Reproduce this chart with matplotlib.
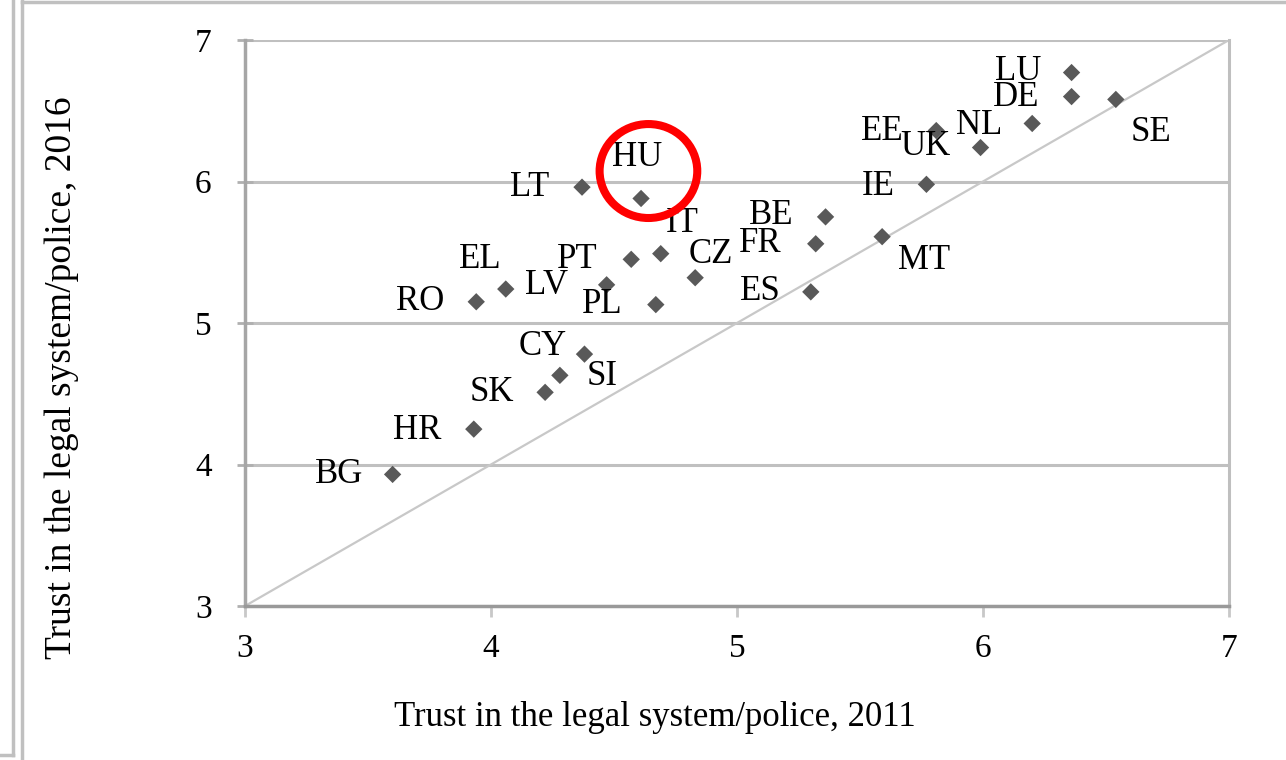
import matplotlib.pyplot as plt
from matplotlib.patches import Ellipse
from matplotlib.lines import Line2D

plt.rcParams['font.family'] = ['Liberation Serif', 'DejaVu Serif']

countries = ['LU', 'DE', 'SE', 'NL', 'EE', 'UK', 'IE', 'LT', 'HU', 'IT', 'PT',
             'BE', 'FR', 'CZ', 'ES', 'MT', 'LV', 'PL', 'EL', 'RO', 'CY', 'SI',
             'SK', 'HR', 'BG']
trust_2011 = [6.36, 6.36, 6.54, 6.20, 5.81, 5.99, 5.77, 4.37, 4.61, 4.69, 4.57,
              5.36, 5.32, 4.83, 5.30, 5.59, 4.47, 4.67, 4.06, 3.94, 4.38, 4.28,
              4.22, 3.93, 3.60]
trust_2016 = [6.77, 6.60, 6.58, 6.41, 6.36, 6.24, 5.98, 5.96, 5.88, 5.49, 5.45,
              5.75, 5.56, 5.32, 5.22, 5.61, 5.27, 5.13, 5.24, 5.15, 4.78, 4.63,
              4.51, 4.25, 3.93]
ticks = [3, 4, 5, 6, 7]

# label offsets in pixels (dx, dy), Excel-style placement
offsets = {
    'LU': (-53, 1), 'DE': (-55, -1), 'SE': (35, -33), 'NL': (-53, -2),
    'EE': (-54, -1), 'UK': (-55, 1), 'IE': (-48, -2), 'LT': (-52, 0),
    'HU': (-4, 41), 'IT': (21, 30), 'PT': (-54, 0), 'BE': (-54, 1),
    'FR': (-55, 0), 'CZ': (16, 23), 'ES': (-50, 0), 'MT': (42, -24),
    'LV': (-60, -1), 'PL': (-54, 0), 'EL': (-26, 30), 'RO': (-56, 0),
    'CY': (-42, 8), 'SI': (42, -1), 'SK': (-53, 0), 'HR': (-57, -1),
    'BG': (-53, 0),
}

fig = plt.figure(figsize=(12.86, 7.6), dpi=100)
ax = fig.add_axes([245/1286, 154/760, (1229-245)/1286, (606-40)/760])

ax.set_xlim(3, 7)
ax.set_ylim(3, 7)
ax.set_xticks(ticks)
ax.set_yticks(ticks)
ax.grid(axis='y', color='#c0c0c0', linewidth=2.2)
ax.set_axisbelow(True)

ax.plot([3, 7], [3, 7], color='#c8c8c8', linewidth=1.6, zorder=1)
ax.scatter(trust_2011, trust_2016, marker='D', s=78, color='#595959',
           edgecolors='none', zorder=3)

for c, x, y in zip(countries, trust_2011, trust_2016):
    dx, dy = offsets[c]
    ax.annotate(c, (x, y), xytext=(dx * 0.72, dy * 0.72), textcoords='offset points',
                ha='center', va='center', fontsize=25, color='black')

ax.add_patch(Ellipse((4.64, 6.074), 0.397, 0.664, fill=False,
                     edgecolor='#ff0000', linewidth=5.8, zorder=4))

ax.spines['top'].set_visible(False)
ax.spines['right'].set_color('#bfbfbf')
ax.spines['right'].set_linewidth(2.2)
ax.spines['left'].set_color('#a6a6a6')
ax.spines['left'].set_linewidth(2.5)
ax.spines['bottom'].set_color('#999999')
ax.spines['bottom'].set_linewidth(2.5)

ax.tick_params(axis='y', direction='inout', length=12, width=2, color='#b0b0b0',
               labelsize=24, pad=18)
ax.tick_params(axis='x', direction='out', length=8, width=2, color='#c8c8c8',
               labelsize=24, pad=12)

fig.text(655/1286, 1 - 718/760, 'Trust in the legal system/police, 2011',
         ha='center', va='center', fontsize=25)
fig.text(62/1286, 1 - 378/760, 'Trust in the legal system/police, 2016',
         ha='center', va='center', fontsize=27, rotation=90)

# outer frame of the cropped page
fig.add_artist(Line2D([13/1286, 13/1286], [1, 5/760], color='#c0c0c0', linewidth=2.5))
fig.add_artist(Line2D([0, 13/1286], [5/760, 5/760], color='#c0c0c0', linewidth=2.5))
fig.add_artist(Line2D([22/1286, 22/1286], [0, 1], color='#c0c0c0', linewidth=2.5))
fig.add_artist(Line2D([22/1286, 1], [758/760, 758/760], color='#c0c0c0', linewidth=2.5))

fig.savefig('out.png', dpi=100)
